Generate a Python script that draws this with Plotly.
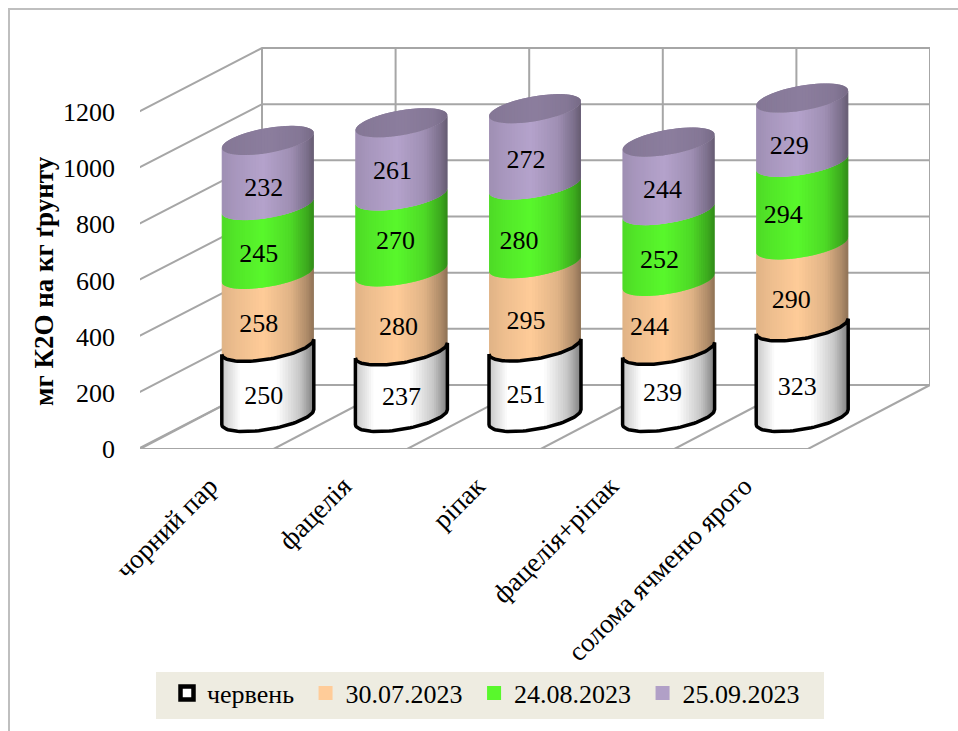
import numpy as np
import plotly.graph_objects as go

# ---- data ----
categories = ["чорний пар", "фацелія", "ріпак", "фацелія+ріпак", "солома ячменю ярого"]
series_names = ["червень", "30.07.2023", "24.08.2023", "25.09.2023"]
june = [250, 237, 251, 239, 323]
jul30 = [258, 280, 295, 244, 290]
aug24 = [245, 270, 280, 252, 294]
sep25 = [232, 261, 272, 244, 229]
y_ticks = [0, 200, 400, 600, 800, 1000, 1200]
y_title = "мг К2О на кг ґрунту"

# ---- style ----
FONT = "Liberation Serif"
GRID = "#A6A6A6"
colors = ["#FFFFFF", "#FFCC99", "#59F82C", "#B5A3CC"]
legend_colors = ["#FFFFFF", "#FFCC99", "#59F82C", "#B1A0C7"]
top_color = "#8C7E9E"

W, H = 958, 731
L, R, T, B = 140, 930, 47, 449       # plot-area pixels
CAT_PX = 133.6
UNIT_PX = 0.2808
DEPTH_X = 122 / CAT_PX               # depth shift in category units
DEPTH_Y = 64 / UNIT_PX               # depth shift in value units
x_range = [-0.5, -0.5 + (R - L) / CAT_PX]
y_range = [0, (B - T) / UNIT_PX]
RAD_X = 46 / CAT_PX                  # cylinder half-width
SKEW = 7.5 / UNIT_PX                 # tilt of the ellipses
RAD_Y = 12.5 / UNIT_PX               # ellipse half-height
N = 48

# label nudges (px), per series then category
label_dx = [[-4, 0, -9, -6, -5], [-9, -3, -9, -19, -11], [-9, -6, -16, -9, -19], [-4, -9, -9, -6, -13]]
label_dy = [[16, 15, 15, 11, 17], [15, 17, 17, 13, 16], [16, 9, 18, 16, 13], [17, 13, 15, 15, 17]]


def shade(hexcol, f):
    r, g, b = (int(hexcol[i:i + 2], 16) for i in (1, 3, 5))
    return "rgb(%d,%d,%d)" % (min(255, r * f), min(255, g * f), min(255, b * f))


def profile(u, white=False):
    if white:
        return float(np.interp(u, [0, 0.2, 0.6, 0.85, 1], [0.78, 1, 1, 0.78, 0.5]))
    return float(np.interp(u, [0, 0.15, 0.45, 0.75, 0.93, 1], [0.88, 0.93, 1, 0.88, 0.68, 0.56]))


ts = np.linspace(np.pi, 2 * np.pi, N + 1)          # front half of ellipse, left to right
cos_t, sin_t = np.cos(ts), np.sin(ts)
cx = [i + DEPTH_X / 2 for i in range(len(categories))]
base_y = DEPTH_Y / 2


def front_arc(c, level):
    return c + RAD_X * cos_t, level + SKEW * cos_t + RAD_Y * sin_t


def back_arc(c, level):
    return c + RAD_X * cos_t, level + SKEW * cos_t - RAD_Y * sin_t


def strip(j, xa, ya, xb, yb):
    """A band from step j, overlapping the next band so no seam shows."""
    e = min(j + 2, N)
    idx = list(range(j, e + 1))
    px = [xa[k] for k in idx] + [xb[k] for k in idx[::-1]] + [xa[j], None]
    py = [ya[k] for k in idx] + [yb[k] for k in idx[::-1]] + [ya[j], None]
    return px, py


fig = go.Figure()

# ---- walls and floor ----
gx, gy = [], []
for v in y_ticks:
    gx += [-0.515, x_range[0] + DEPTH_X, x_range[1], None]
    gy += [v, v + DEPTH_Y, v + DEPTH_Y, None]
for k in range(6):
    gx += [x_range[0] + k, x_range[0] + k + DEPTH_X, None]
    gy += [0, DEPTH_Y, None]
    gx += [x_range[0] + k + DEPTH_X, x_range[0] + k + DEPTH_X, None]
    gy += [DEPTH_Y, y_ticks[-1] + DEPTH_Y, None]
gx += [x_range[0], x_range[0] + 5, None]
gy += [0, 0, None]
fig.add_trace(go.Scatter(x=gx, y=gy, mode="lines", line=dict(color=GRID, width=2),
                         hoverinfo="skip", showlegend=False, cliponaxis=False))

# ---- cylinders ----
all_series = [june, jul30, aug24, sep25]
cum = np.zeros(len(categories))
levels = []
for vals in all_series:
    lo = cum.copy()
    cum = cum + np.array(vals)
    levels.append((lo, cum.copy()))

for s, (lo, hi) in enumerate(levels):
    for j in range(N):
        px, py = [], []
        for i, c in enumerate(cx):
            x0, y0 = front_arc(c, base_y + lo[i])
            x1, y1 = front_arc(c, base_y + hi[i])
            a, b = strip(j, x0, y0, x1, y1)
            px += a
            py += b
        u = (0.5 * (cos_t[j] + cos_t[j + 1]) + 1) / 2
        col = shade(colors[s], profile(u, s == 0))
        fig.add_trace(go.Scatter(x=px, y=py, mode="lines", fill="toself", fillcolor=col,
                                 line=dict(color=col, width=0), hoverinfo="skip",
                                 showlegend=False, cliponaxis=False))

# top caps
for j in range(N):
    px, py = [], []
    for i, c in enumerate(cx):
        xf, yf = front_arc(c, base_y + cum[i])
        xb, yb = back_arc(c, base_y + cum[i])
        a, b = strip(j, xf, yf, xb, yb)
        px += a
        py += b
    u = (0.5 * (cos_t[j] + cos_t[j + 1]) + 1) / 2
    col = shade(top_color, float(np.interp(u, [0, 0.5, 0.85, 1], [0.95, 1.0, 0.95, 0.85])))
    fig.add_trace(go.Scatter(x=px, y=py, mode="lines", fill="toself", fillcolor=col,
                             line=dict(color=col, width=0), hoverinfo="skip",
                             showlegend=False, cliponaxis=False))

# outline of the first series
ox, oy = [], []
for i, c in enumerate(cx):
    x0, y0 = front_arc(c, base_y)
    x1, y1 = front_arc(c, base_y + june[i])
    ox += list(x1) + list(x0[::-1]) + [x1[0], None]
    oy += list(y1) + list(y0[::-1]) + [y1[0], None]
fig.add_trace(go.Scatter(x=ox, y=oy, mode="lines", line=dict(color="black", width=3.5),
                         hoverinfo="skip", showlegend=False, cliponaxis=False))

# value labels
for s, (lo, hi) in enumerate(levels):
    tx = [cx[i] + label_dx[s][i] / CAT_PX for i in range(len(cx))]
    ty = [base_y + (lo[i] + hi[i]) / 2 - label_dy[s][i] / UNIT_PX for i in range(len(cx))]
    fig.add_trace(go.Scatter(x=tx, y=ty, mode="text", text=[str(v) for v in all_series[s]],
                             textposition="middle center",
                             textfont=dict(family=FONT, size=26, color="black"),
                             hoverinfo="skip", showlegend=False, cliponaxis=False))

# legend entries
for s, name in enumerate(series_names):
    mk = dict(symbol="square", size=14, color=legend_colors[s])
    if s == 0:
        mk = dict(symbol="square", size=13, color="white", line=dict(color="black", width=4.5))
    fig.add_trace(go.Scatter(x=[None], y=[None], mode="markers", name=name + "\u00a0", marker=mk))


def pxx(p):
    return (p - L) / (R - L)


def pxy(p):
    return (B - p) / (B - T)


fig.update_layout(
    width=W, height=H,
    margin=dict(l=L, r=W - R, t=T, b=H - B, autoexpand=False),
    paper_bgcolor="white", plot_bgcolor="rgba(0,0,0,0)",
    font=dict(family=FONT, size=26, color="black"),
    showlegend=True,
    legend=dict(orientation="h", x=pxx(167), y=pxy(693), xanchor="left", yanchor="middle",
                bgcolor="rgba(0,0,0,0)", font=dict(family=FONT, size=26, color="black"),
                itemclick=False, itemdoubleclick=False),
    xaxis=dict(range=x_range, tickmode="array", tickvals=list(range(len(categories))),
               ticktext=categories, tickangle=-45, showgrid=False, zeroline=False,
               showline=False, ticks="", automargin=False,
               ticklabelstandoff=15, ticklabelshift=3,
               tickfont=dict(family=FONT, size=27, color="black")),
    yaxis=dict(range=y_range, tickmode="array", tickvals=y_ticks, showgrid=False, zeroline=False,
               showline=False, ticks="", ticklabelstandoff=24, automargin=False,
               tickfont=dict(family=FONT, size=26, color="black")),
    annotations=[
        dict(text="<b>%s</b>" % y_title, xref="paper", yref="paper", x=pxx(44), y=pxy(281),
             xanchor="center", yanchor="middle", textangle=-90, showarrow=False,
             font=dict(family=FONT, size=27, color="black")),
    ],
    shapes=[
        dict(type="rect", xref="paper", yref="paper", x0=pxx(156), x1=pxx(824), y0=pxy(672), y1=pxy(719),
             fillcolor="#EEECE1", line=dict(width=0), layer="below"),
        dict(type="path", xref="paper", yref="paper",
             path="M %f,%f L %f,%f L %f,%f" % (pxx(9), pxy(731), pxx(9), pxy(9), pxx(958), pxy(9)),
             line=dict(color="#BFBFBF", width=2), layer="below"),
    ],
)

fig.write_html("out.html", post_script="document.body.style.margin='0';",
               config=dict(displayModeBar=False))
